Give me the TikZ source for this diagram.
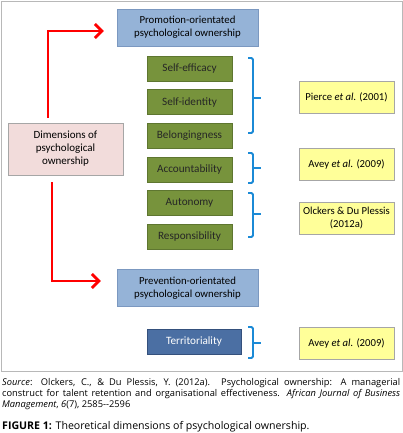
\documentclass[tikz,border=0pt]{standalone}
\usepackage{fontspec}
\setmainfont{Carlito}
\newfontfamily\capfont{Open Sans}
\usepackage{tikz}
\usetikzlibrary{positioning, arrows.meta}

\definecolor{promblue}{HTML}{95B3D7}
\definecolor{promline}{HTML}{7B98C0}
\definecolor{dimgreen}{HTML}{77933C}
\definecolor{greenline}{HTML}{5E7630}
\definecolor{terrblue}{HTML}{4B6FA3}
\definecolor{terrline}{HTML}{34507C}
\definecolor{dimpink}{HTML}{F2DCDB}
\definecolor{refyellow}{HTML}{FFFF99}
\definecolor{boxgray}{HTML}{A6A6A6}
\definecolor{bracketblue}{HTML}{1B8AD6}

\begin{document}
\begin{tikzpicture}[
  x=1pt, y=-1pt,
  node distance=8.2pt,
  >=Stealth,
  orientbox/.style={draw=promline, fill=promblue, minimum width=141pt, minimum height=37pt,
    align=center, inner sep=1pt, font=\fontsize{10.8}{12.8}\selectfont},
  greenbox/.style={draw=greenline, fill=dimgreen, minimum width=85pt, minimum height=25pt,
    inner sep=1pt, text=black!85, font=\fontsize{11.2}{13}\selectfont},
  refbox/.style={draw=boxgray, fill=refyellow, minimum width=95pt, minimum height=32pt,
    align=center, inner sep=1pt, font=\fontsize{10.7}{12.7}\selectfont},
  bracket/.style={draw=bracketblue, line width=1.8pt, rounded corners=1.5pt},
  redarrow/.style={draw=red, line width=2.8pt, -{Straight Barb[length=7pt, width=14pt]}}
]
  \useasboundingbox (0,0) rectangle (403,433);
  \draw[boxgray!80, line width=0.8pt] (1,1) rectangle (402,371);

  % central column
  \node[orientbox] (prom) at (187.5,27.5) {Promotion-orientated\\psychological ownership};
  \node[greenbox] (eff) at (189.5,68.5) {Self-efficacy};
  \node[greenbox, below=of eff] (ident) {Self-identity};
  \node[greenbox, below=of ident] (belong) {Belongingness};
  \node[greenbox, below=of belong] (account) {Accountability};
  \node[greenbox, below=of account] (auton) {Autonomy};
  \node[greenbox, below=of auton] (respons) {Responsibility};
  \node[orientbox] (prev) at (187.5,288) {Prevention-orientated\\psychological ownership};
  \node[greenbox, fill=terrblue, draw=terrline, text=white, minimum width=94pt] (terr) at (194,341.5) {Territoriality};

  \node[draw=boxgray, fill=dimpink, minimum width=115pt, minimum height=52pt, align=center,
    inner sep=1pt, font=\fontsize{11}{13}\selectfont] (dim) at (65.5,149)
    {Dimensions of\\psychological\\ownership};

  % sources
  \node[refbox] (pierce) at (346.5,97) {Pierce \textit{et al.} (2001)};
  \node[refbox] (avey) at (346.5,164) {Avey \textit{et al.} (2009)};
  \node[refbox] (olckers) at (346.5,218) {Olckers \& Du Plessis\\(2012a)};
  \node[refbox] (avey2) at (346.5,343) {Avey \textit{et al.} (2009)};

  % brackets
  \draw[bracket] (248,58) -- (253,58) -- (253,133) -- (248,133);
  \draw[bracket] (253,98) -- (261,98);
  \draw[bracket] (248,153) -- (253,153) -- (253,183) -- (248,183);
  \draw[bracket] (253,168) -- (261,168);
  \draw[bracket] (248,193) -- (253,193) -- (253,237) -- (248,237);
  \draw[bracket] (253,214) -- (261,214);
  \draw[bracket] (248,327) -- (253,327) -- (253,358) -- (248,358);
  \draw[bracket] (253,343) -- (261,343);

  % arrows
  \draw[redarrow, shorten >=13pt] ([xshift=-17.5pt, yshift=5pt]dim.north) |- ([yshift=-3.5pt]prom.west);
  \draw[redarrow, shorten >=16pt] ([xshift=-13.5pt, yshift=-7pt]dim.south) |- ([yshift=7pt]prev.west);

  % caption
  \node[anchor=north west, text width=398pt, align=justify, inner sep=0pt,
    font=\capfont\fontsize{9.3}{11.3}\selectfont] (src) at (2,378)
    {\textit{Source}: Olckers, C., \& Du Plessis, Y. (2012a). Psychological ownership: A managerial\linebreak
     construct for talent retention and organisational effectiveness. \textit{African Journal of Business}\linebreak
     \textit{Management}, \textit{6}(7), 2585--2596};
  \node[anchor=west, inner sep=0pt, font=\capfont\fontsize{10.6}{12}\selectfont] (fig) at (2,426.5)
    {\textbf{FIGURE 1:} Theoretical dimensions of psychological ownership.};
\end{tikzpicture}
\end{document}
